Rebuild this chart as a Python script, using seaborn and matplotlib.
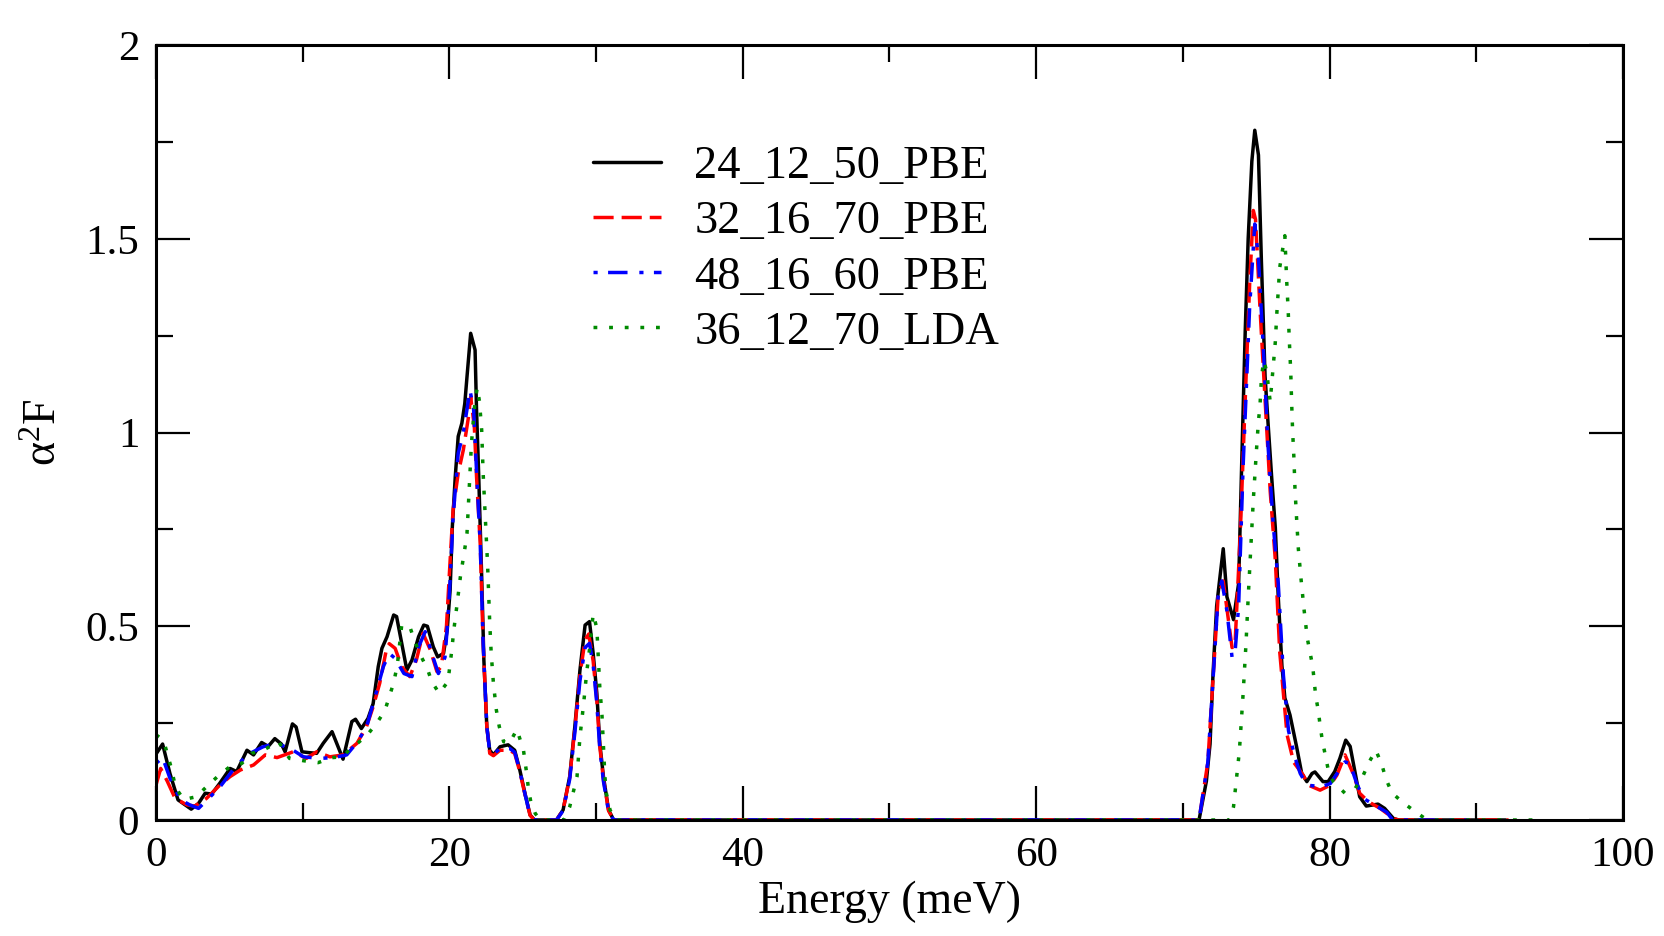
import matplotlib
matplotlib.use("Agg")
import matplotlib.pyplot as plt
import pandas as pd
import seaborn as sns

# ---------------- data ----------------
series_names = ["24_12_50_PBE", "32_16_70_PBE", "48_16_60_PBE", "36_12_70_LDA"]

pbe_24_12_50 = [
    (0, 0.17), (0.45, 0.196), (0.95, 0.12), (1.5, 0.052), (2.4, 0.028), (2.9, 0.043),
    (3.35, 0.069), (3.8, 0.067), (4.35, 0.095), (5.05, 0.133), (5.5, 0.125), (6.2, 0.18),
    (6.65, 0.168), (7.2, 0.2), (7.65, 0.19), (8.1, 0.21), (8.55, 0.196), (8.8, 0.176),
    (9.3, 0.248), (9.55, 0.24), (9.95, 0.176), (10.4, 0.174), (10.95, 0.172), (11.4, 0.198),
    (12.0, 0.228), (12.75, 0.157), (13.35, 0.254), (13.6, 0.26), (14.0, 0.236), (14.45, 0.262),
    (14.8, 0.30), (15.15, 0.396), (15.4, 0.443), (15.75, 0.473), (16.2, 0.529), (16.4, 0.525),
    (16.75, 0.456), (17.1, 0.387), (17.45, 0.413), (17.9, 0.473), (18.25, 0.503), (18.5, 0.50),
    (18.9, 0.447), (19.2, 0.421), (19.6, 0.43), (19.85, 0.49), (20.05, 0.594), (20.2, 0.757),
    (20.4, 0.886), (20.6, 0.99), (20.85, 1.024), (21.05, 1.075), (21.2, 1.144), (21.45, 1.256),
    (21.75, 1.213), (21.85, 1.058), (22.0, 0.886), (22.2, 0.628), (22.35, 0.413), (22.55, 0.241),
    (22.75, 0.18), (23.0, 0.168), (23.45, 0.189), (24.0, 0.194), (24.45, 0.18), (24.8, 0.129),
    (25.15, 0.069), (25.5, 0.013), (25.8, 0.0), (27.3, 0.0), (27.75, 0.026), (28.2, 0.112),
    (28.55, 0.241), (28.9, 0.387), (29.25, 0.503), (29.55, 0.512), (29.8, 0.43), (30.05, 0.327),
    (30.25, 0.198), (30.5, 0.112), (30.85, 0.026), (31.2, 0.0), (71.1, 0.0), (71.6, 0.10),
    (71.85, 0.196), (72.05, 0.374), (72.3, 0.552), (72.55, 0.635), (72.75, 0.70), (73.0, 0.576),
    (73.45, 0.517), (73.8, 0.611), (74.0, 0.908), (74.25, 1.264), (74.45, 1.50), (74.7, 1.70),
    (74.9, 1.78), (75.15, 1.716), (75.35, 1.443), (75.6, 1.146), (75.8, 1.027), (76.05, 0.885),
    (76.3, 0.754), (76.5, 0.576), (76.75, 0.398), (76.95, 0.315), (77.3, 0.271), (77.75, 0.189),
    (78.1, 0.12), (78.45, 0.099), (78.8, 0.12), (79.0, 0.124), (79.55, 0.099), (79.9, 0.099),
    (80.35, 0.125), (80.7, 0.159), (81.1, 0.206), (81.4, 0.19), (81.75, 0.12), (82.05, 0.06),
    (82.5, 0.036), (83.3, 0.041), (83.75, 0.03), (84.35, 0.004), (84.7, 0.0), (92.0, 0.0),
]

pbe_32_16_70 = [
    (0, 0.09), (0.32, 0.133), (0.77, 0.10), (1.3, 0.056), (2.1, 0.039), (2.65, 0.036),
    (3.45, 0.056), (4.35, 0.09), (5.05, 0.112), (5.75, 0.129), (6.65, 0.142), (7.45, 0.168),
    (8.25, 0.161), (9.35, 0.176), (10.25, 0.159), (10.95, 0.176), (11.85, 0.163), (12.75, 0.168),
    (13.7, 0.198), (14.35, 0.241), (14.8, 0.292), (15.25, 0.353), (15.7, 0.439), (15.9, 0.455),
    (16.3, 0.443), (16.75, 0.396), (17.3, 0.37), (17.75, 0.413), (18.2, 0.482), (18.7, 0.439),
    (19.15, 0.383), (19.45, 0.396), (19.8, 0.5), (20.05, 0.67), (20.25, 0.8), (20.6, 0.895),
    (20.95, 0.955), (21.3, 1.04), (21.45, 1.092), (21.7, 1.015), (21.85, 0.886), (22.1, 0.714),
    (22.3, 0.456), (22.55, 0.241), (22.75, 0.172), (23.0, 0.166), (23.45, 0.18), (24.1, 0.18),
    (24.45, 0.172), (24.8, 0.125), (25.15, 0.066), (25.5, 0.012), (25.8, 0.0), (27.3, 0.0),
    (27.75, 0.026), (28.2, 0.11), (28.55, 0.235), (28.9, 0.375), (29.25, 0.465), (29.5, 0.48),
    (29.8, 0.41), (30.05, 0.31), (30.25, 0.19), (30.5, 0.105), (30.85, 0.024), (31.2, 0.0),
    (71.1, 0.0), (71.7, 0.149), (72.05, 0.362), (72.4, 0.576), (72.75, 0.617), (73.1, 0.517),
    (73.35, 0.445), (73.55, 0.45), (73.9, 0.73), (74.25, 1.086), (74.55, 1.383), (74.8, 1.573),
    (74.95, 1.55), (75.25, 1.324), (75.6, 1.086), (75.95, 0.849), (76.3, 0.671), (76.6, 0.434),
    (77.1, 0.22), (77.55, 0.149), (78.2, 0.116), (78.55, 0.09), (79.35, 0.077), (80.05, 0.09),
    (80.5, 0.116), (81.05, 0.168), (81.6, 0.12), (82.05, 0.069), (82.65, 0.047), (83.45, 0.03),
    (84.35, 0.004), (84.7, 0.0), (92.2, 0.0),
]

pbe_48_16_60 = [
    (0, 0.146), (0.45, 0.161), (0.95, 0.108), (1.65, 0.053), (2.3, 0.039), (2.9, 0.03),
    (3.7, 0.06), (4.35, 0.085), (5.25, 0.129), (6.2, 0.168), (7.3, 0.189), (8.25, 0.198),
    (9.35, 0.18), (10.05, 0.163), (11.2, 0.159), (12.1, 0.161), (13.0, 0.168), (13.7, 0.2),
    (14.35, 0.24), (14.8, 0.30), (15.5, 0.396), (15.9, 0.43), (16.3, 0.417), (16.9, 0.378),
    (17.45, 0.37), (17.9, 0.447), (18.35, 0.486), (18.8, 0.43), (19.25, 0.378), (19.7, 0.42),
    (19.9, 0.52), (20.05, 0.62), (20.25, 0.78), (20.6, 0.946), (20.95, 1.0), (21.2, 1.06),
    (21.4, 1.11), (21.65, 1.06), (21.85, 0.9), (22.1, 0.714), (22.3, 0.456), (22.55, 0.241),
    (22.75, 0.175), (23.0, 0.17), (23.45, 0.184), (24.1, 0.185), (24.45, 0.175), (24.8, 0.127),
    (25.15, 0.067), (25.5, 0.012), (25.8, 0.0), (27.3, 0.0), (27.75, 0.024), (28.2, 0.105),
    (28.55, 0.225), (28.9, 0.36), (29.25, 0.445), (29.55, 0.456), (29.8, 0.40), (30.05, 0.30),
    (30.25, 0.185), (30.5, 0.1), (30.85, 0.022), (31.2, 0.0), (71.1, 0.0), (71.7, 0.149),
    (72.05, 0.36), (72.4, 0.576), (72.65, 0.617), (73.0, 0.54), (73.35, 0.42), (73.55, 0.43),
    (73.8, 0.552), (74.1, 0.908), (74.55, 1.324), (74.9, 1.538), (75.15, 1.45), (75.5, 1.205),
    (75.8, 0.968), (76.15, 0.766), (76.5, 0.611), (76.85, 0.374), (77.2, 0.23), (77.65, 0.16),
    (78.0, 0.12), (78.45, 0.09), (79.45, 0.086), (80.05, 0.094), (80.6, 0.125), (81.05, 0.15),
    (81.4, 0.145), (81.85, 0.094), (82.3, 0.056), (83.0, 0.04), (83.9, 0.02), (84.3, 0.0),
    (89.5, 0.0),
]

lda_36_12_70 = [
    (0, 0.22), (0.25, 0.213), (0.6, 0.194), (1.0, 0.14), (1.35, 0.082), (1.9, 0.053),
    (2.75, 0.06), (3.45, 0.086), (4.25, 0.114), (5.05, 0.138), (5.85, 0.146), (6.5, 0.172),
    (7.3, 0.18), (8.35, 0.202), (9.1, 0.159), (10.05, 0.153), (11.05, 0.148), (12.0, 0.161),
    (12.75, 0.163), (13.35, 0.189), (13.8, 0.2), (14.45, 0.222), (15.05, 0.25), (15.6, 0.282),
    (16.2, 0.354), (16.45, 0.40), (16.75, 0.503), (17.3, 0.499), (17.65, 0.46), (18.1, 0.42),
    (18.5, 0.39), (18.8, 0.357), (19.3, 0.327), (19.9, 0.357), (20.15, 0.434), (20.3, 0.49),
    (20.5, 0.55), (20.75, 0.628), (21.05, 0.70), (21.2, 0.74), (21.3, 0.817), (21.4, 0.895),
    (21.5, 0.97), (21.65, 1.04), (21.75, 1.08), (21.9, 1.116), (22.05, 1.08), (22.2, 1.006),
    (22.3, 0.895), (22.45, 0.78), (22.6, 0.662), (22.75, 0.508), (22.85, 0.43), (23.0, 0.353),
    (23.2, 0.284), (23.4, 0.241), (23.7, 0.202), (24.1, 0.198), (24.6, 0.234), (25.05, 0.18),
    (25.25, 0.125), (25.4, 0.077), (25.55, 0.047), (25.85, 0.017), (26.2, 0.0), (27.8, 0.0),
    (28.2, 0.034), (28.45, 0.073), (28.7, 0.112), (28.9, 0.215), (29.15, 0.30), (29.35, 0.378),
    (29.6, 0.456), (29.8, 0.532), (30.05, 0.495), (30.15, 0.417), (30.25, 0.344), (30.4, 0.271),
    (30.5, 0.189), (30.6, 0.112), (30.7, 0.069), (30.95, 0.026), (31.3, 0.0), (73.2, 0.0),
    (73.45, 0.034), (73.65, 0.106), (73.85, 0.178), (74.1, 0.323), (74.3, 0.454), (74.45, 0.574),
    (74.7, 0.754), (74.8, 0.826), (75.0, 0.946), (75.15, 1.03), (75.25, 1.066), (75.35, 1.138),
    (75.5, 1.186), (75.7, 1.16), (75.95, 1.08), (76.3, 1.234), (76.4, 1.306), (76.6, 1.426),
    (76.95, 1.508), (77.07, 1.395), (77.18, 1.312), (77.25, 1.241), (77.35, 1.158), (77.41, 1.08),
    (77.48, 1.003), (77.57, 0.932), (77.64, 0.855), (77.75, 0.778), (77.87, 0.70), (78.05, 0.623),
    (78.25, 0.546), (78.48, 0.469), (78.66, 0.434), (78.85, 0.396), (79.05, 0.321), (79.23, 0.282),
    (79.35, 0.245), (79.5, 0.206), (79.7, 0.168), (79.9, 0.131), (80.25, 0.099), (81.05, 0.069),
    (81.75, 0.082), (82.3, 0.116), (82.7, 0.15), (83.15, 0.18), (83.55, 0.144), (83.85, 0.105),
    (84.25, 0.07), (85.0, 0.045), (85.75, 0.024), (86.5, 0.004), (87.0, 0.0), (94.0, 0.0),
]

x_ticks = [0, 20, 40, 60, 80, 100]
x_tick_labels = ["0", "20", "40", "60", "80", "100"]
y_ticks = [0, 0.5, 1, 1.5, 2]
y_tick_labels = ["0", "0.5", "1", "1.5", "2"]

# ---------------- style ----------------
sns.set_theme(style="ticks")
plt.rcParams["font.family"] = ["Liberation Serif", "DejaVu Serif"]
plt.rcParams["mathtext.fontset"] = "custom"
plt.rcParams["mathtext.rm"] = "Liberation Serif"
plt.rcParams["mathtext.it"] = "Liberation Serif:italic"
plt.rcParams["text.color"] = "black"
plt.rcParams["axes.labelcolor"] = "black"
plt.rcParams["xtick.color"] = "black"
plt.rcParams["ytick.color"] = "black"

colors = ["#000000", "#ff0000", "#0000ff", "#008b00"]
linestyles = ["-", (0, (5.8, 2.3)), (0, (1.2, 3.0, 5.6, 3.4)), (0, (1.1, 3.4))]
all_series = [pbe_24_12_50, pbe_32_16_70, pbe_48_16_60, lda_36_12_70]

W, H = 1665, 936
fig = plt.figure(figsize=(W / 100, H / 100), dpi=100)
ax = fig.add_axes([156 / W, 1 - 820 / H, 1467 / W, 775 / H])

for name, pts, col, ls in zip(series_names, all_series, colors, linestyles):
    df = pd.DataFrame(pts, columns=["Energy", "a2F"])
    sns.lineplot(data=df, x="Energy", y="a2F", ax=ax, color=col, linewidth=2.5,
                 linestyle=ls, label=name, estimator=None, sort=False)

ax.set_xlim(0, 100)
ax.set_ylim(0, 2)
ax.set_xticks(x_ticks, labels=x_tick_labels)
ax.set_yticks(y_ticks, labels=y_tick_labels)
ax.set_xticks([10, 30, 50, 70, 90], minor=True)
ax.set_yticks([0.25, 0.75, 1.25, 1.75], minor=True)
ax.tick_params(which="both", direction="in", top=True, right=True, width=1.6,
               colors="black", labelsize=31, pad=12)
ax.tick_params(which="major", length=24.5)
ax.tick_params(which="minor", length=12.2)
for sp in ax.spines.values():
    sp.set_linewidth(2.2)
    sp.set_color("black")
ax.grid(False)

ax.set_xlabel("Energy (meV)", fontsize=33, labelpad=4, color="black")
ax.set_ylabel("\u03b1$^{2}$F", fontsize=33, labelpad=14, color="black")

leg = ax.legend(loc="upper left", bbox_to_anchor=(0.298, 0.87), frameon=False,
                fontsize=33.5, handlelength=1.45, handletextpad=0.72, labelspacing=0.27,
                borderpad=0, borderaxespad=0)
for t in leg.get_texts():
    t.set_color("black")

fig.savefig("out.png", dpi=100)
